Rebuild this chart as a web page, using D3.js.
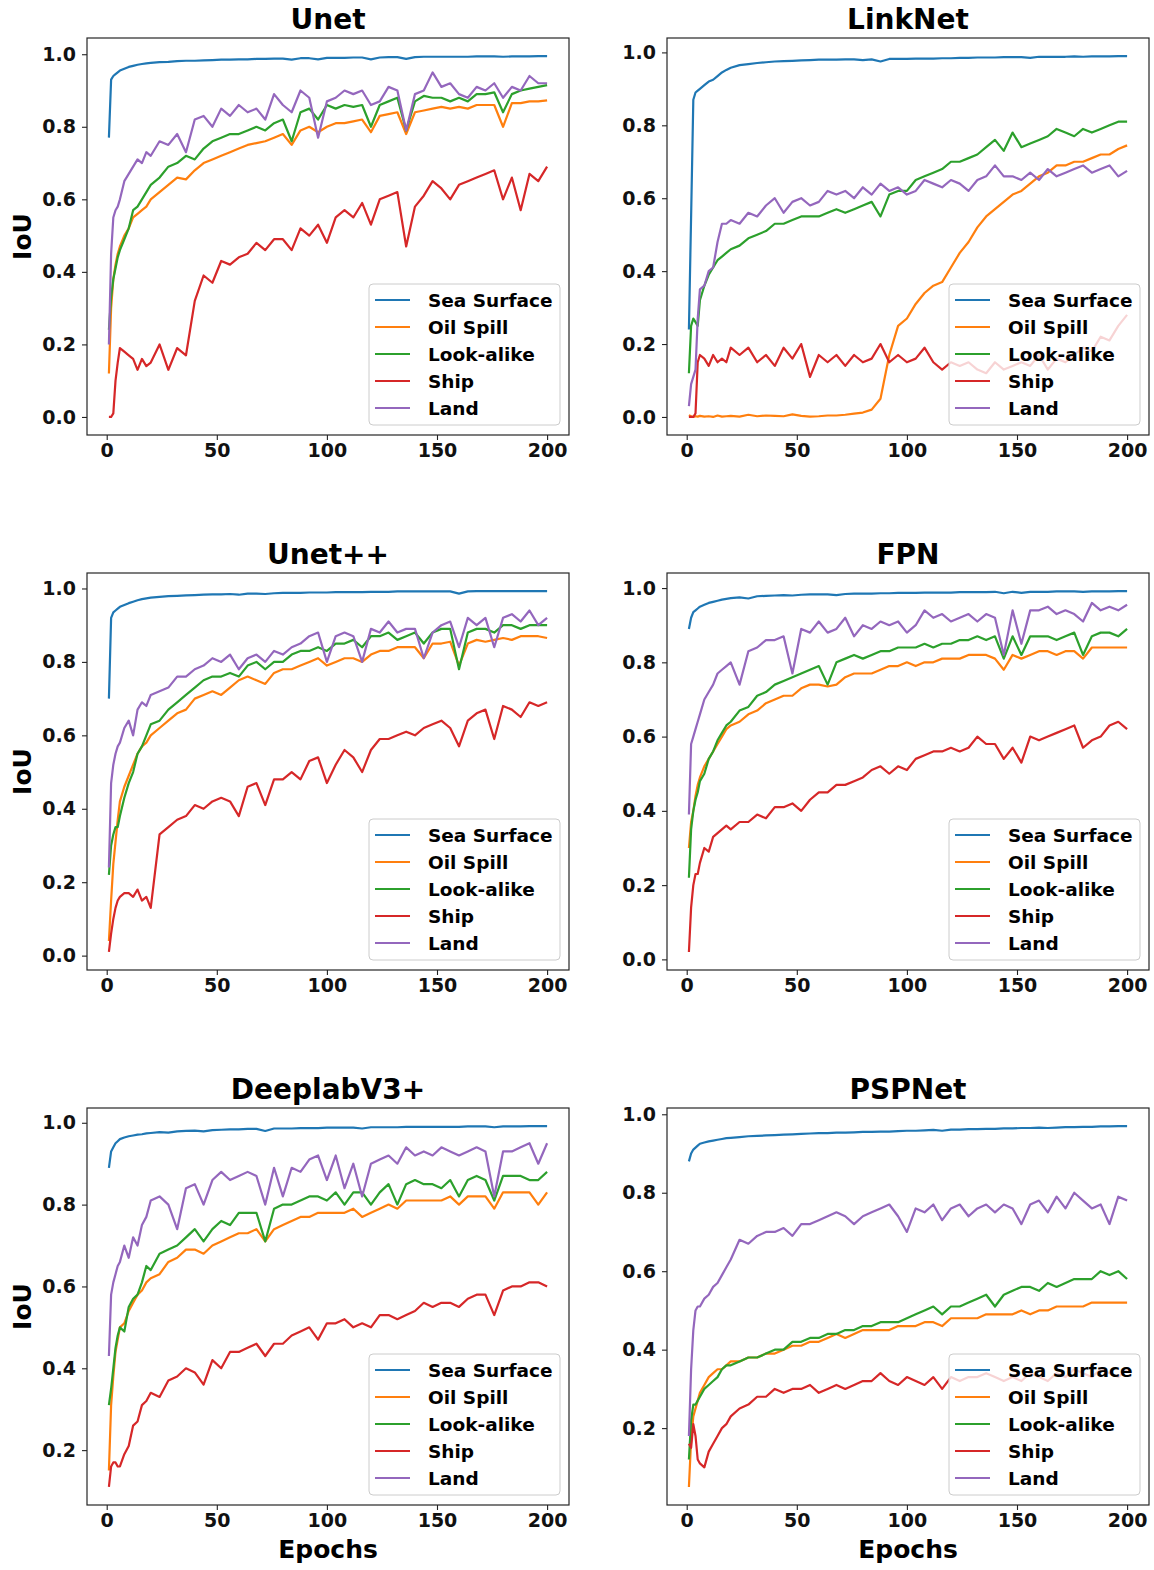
<!DOCTYPE html>
<html>
<head>
<meta charset="utf-8">
<script src="https://cdn.jsdelivr.net/npm/d3@7"></script>
<style>
  body { margin: 0; background: #fff; }
  text { font-family: "DejaVu Sans", sans-serif; font-weight: bold; }
</style>
</head>
<body>
<svg id="chart"></svg>
<script>
const epochs = [1,2,3,4,5,6,8,10,12,14,16,18,20,
  24,28,32,36,40,44,48,52,56,
  60,64,68,72,76,80,84,88,92,
  96,100,104,108,112,116,120,124,128,
  132,136,140,144,148,152,156,160,164,
  168,172,176,180,184,188,192,196,200];

const seriesNames = ['Sea Surface', 'Oil Spill', 'Look-alike', 'Ship', 'Land'];
const seriesColors = ['#1f77b4', '#ff7f0e', '#2ca02c', '#d62728', '#9467bd'];
const xTicks = [0, 50, 100, 150, 200];
const yTicks = [0.0, 0.2, 0.4, 0.6, 0.8, 1.0];

// Unet
const unetSea = [0.77,0.93,0.94,0.945,0.95,0.955,0.96,0.965,0.968,0.971,0.973,0.975,0.976,
  0.978,0.979,0.981,0.982,0.982,0.983,0.984,0.985,0.985,
  0.986,0.986,0.987,0.987,0.988,0.988,0.985,0.989,0.989,
  0.986,0.99,0.99,0.99,0.991,0.991,0.986,0.991,0.992,
  0.992,0.987,0.992,0.993,0.993,0.993,0.993,0.993,0.993,
  0.994,0.994,0.994,0.993,0.994,0.994,0.994,0.995,0.995];
const unetOil = [0.12,0.30,0.38,0.42,0.45,0.47,0.50,0.52,0.55,0.56,0.57,0.58,0.60,
  0.62,0.64,0.66,0.655,0.68,0.70,0.71,0.72,0.73,
  0.74,0.75,0.755,0.76,0.77,0.78,0.75,0.79,0.80,
  0.785,0.80,0.81,0.81,0.815,0.82,0.785,0.83,0.835,
  0.84,0.78,0.84,0.845,0.85,0.855,0.85,0.855,0.85,
  0.86,0.86,0.86,0.80,0.865,0.865,0.87,0.87,0.873];
const unetLook = [0.24,0.33,0.38,0.41,0.44,0.46,0.49,0.52,0.57,0.58,0.60,0.62,0.64,
  0.66,0.69,0.70,0.72,0.71,0.74,0.76,0.77,0.78,
  0.78,0.79,0.80,0.79,0.81,0.82,0.76,0.84,0.85,
  0.82,0.86,0.85,0.86,0.855,0.86,0.80,0.86,0.87,
  0.88,0.79,0.87,0.885,0.88,0.88,0.87,0.88,0.87,
  0.89,0.89,0.895,0.84,0.89,0.90,0.905,0.91,0.915];
const unetShip = [0.00,0.00,0.01,0.10,0.15,0.19,0.18,0.17,0.16,0.13,0.16,0.14,0.15,
  0.20,0.13,0.19,0.17,0.32,0.39,0.37,0.43,0.42,
  0.44,0.45,0.48,0.46,0.49,0.49,0.46,0.52,0.50,
  0.53,0.48,0.55,0.57,0.55,0.59,0.53,0.60,0.61,
  0.62,0.47,0.58,0.61,0.65,0.63,0.60,0.64,0.65,
  0.66,0.67,0.68,0.60,0.66,0.57,0.67,0.65,0.69];
const unetLand = [0.20,0.45,0.55,0.57,0.58,0.60,0.65,0.67,0.69,0.71,0.70,0.73,0.72,
  0.76,0.75,0.78,0.73,0.82,0.83,0.80,0.85,0.83,
  0.86,0.84,0.85,0.82,0.89,0.86,0.84,0.90,0.88,
  0.77,0.87,0.88,0.90,0.89,0.90,0.86,0.87,0.91,
  0.90,0.79,0.89,0.90,0.95,0.91,0.92,0.89,0.88,
  0.91,0.90,0.92,0.88,0.91,0.90,0.94,0.92,0.92];

// LinkNet
const linkSea = [0.24,0.55,0.87,0.89,0.895,0.90,0.91,0.92,0.925,0.935,0.945,0.952,0.958,
  0.965,0.968,0.971,0.973,0.975,0.976,0.977,0.978,0.979,
  0.98,0.98,0.98,0.981,0.981,0.979,0.981,0.975,0.982,
  0.982,0.982,0.983,0.983,0.983,0.984,0.984,0.985,0.985,
  0.986,0.986,0.986,0.987,0.987,0.987,0.985,0.988,0.988,
  0.988,0.988,0.989,0.988,0.989,0.989,0.989,0.99,0.99];
const linkOil = [0.005,0.002,0.0,0.002,0.001,0.003,0.001,0.002,0.0,0.004,0.001,0.002,0.003,
  0.001,0.006,0.002,0.004,0.003,0.002,0.007,0.003,0.001,
  0.002,0.004,0.004,0.006,0.009,0.012,0.02,0.05,0.17,
  0.25,0.27,0.31,0.34,0.36,0.37,0.41,0.45,0.48,
  0.52,0.55,0.57,0.59,0.61,0.62,0.64,0.66,0.67,
  0.69,0.69,0.70,0.70,0.71,0.72,0.72,0.735,0.745];
const linkLook = [0.12,0.25,0.27,0.26,0.25,0.32,0.36,0.39,0.41,0.43,0.44,0.45,0.46,
  0.47,0.49,0.50,0.51,0.53,0.53,0.54,0.55,0.55,
  0.55,0.56,0.57,0.56,0.57,0.58,0.59,0.55,0.61,
  0.62,0.62,0.65,0.66,0.67,0.68,0.70,0.70,0.71,
  0.72,0.74,0.76,0.73,0.78,0.74,0.75,0.76,0.77,
  0.79,0.78,0.77,0.79,0.78,0.79,0.80,0.81,0.81];
const linkShip = [0.0,0.0,0.0,0.01,0.15,0.17,0.16,0.14,0.17,0.15,0.16,0.15,0.19,
  0.17,0.19,0.15,0.17,0.14,0.19,0.16,0.20,0.11,
  0.17,0.15,0.17,0.14,0.17,0.15,0.16,0.20,0.15,
  0.17,0.15,0.16,0.19,0.15,0.13,0.15,0.14,0.15,
  0.13,0.12,0.15,0.13,0.14,0.15,0.14,0.17,0.13,
  0.16,0.15,0.17,0.19,0.18,0.22,0.21,0.25,0.28];
const linkLand = [0.03,0.09,0.11,0.13,0.27,0.35,0.36,0.40,0.41,0.48,0.53,0.53,0.54,
  0.53,0.56,0.55,0.58,0.60,0.56,0.59,0.60,0.58,
  0.59,0.62,0.61,0.62,0.60,0.63,0.61,0.64,0.62,
  0.63,0.61,0.62,0.65,0.64,0.63,0.65,0.64,0.62,
  0.65,0.66,0.69,0.66,0.66,0.65,0.67,0.65,0.68,
  0.66,0.67,0.68,0.69,0.67,0.68,0.69,0.66,0.675];

// Unet++
const uppSea = [0.70,0.92,0.935,0.94,0.945,0.95,0.955,0.96,0.964,0.968,0.971,0.973,0.975,
  0.977,0.979,0.98,0.981,0.982,0.983,0.984,0.984,0.985,
  0.983,0.986,0.986,0.985,0.987,0.988,0.988,0.988,0.989,
  0.989,0.989,0.99,0.99,0.99,0.99,0.991,0.991,0.991,
  0.992,0.992,0.992,0.992,0.992,0.992,0.992,0.986,0.992,
  0.993,0.993,0.993,0.993,0.993,0.993,0.993,0.993,0.993];
const uppOil = [0.04,0.15,0.25,0.31,0.37,0.42,0.46,0.49,0.52,0.55,0.57,0.58,0.60,
  0.62,0.64,0.66,0.67,0.70,0.71,0.72,0.71,0.73,
  0.75,0.76,0.75,0.74,0.77,0.78,0.78,0.79,0.80,
  0.81,0.79,0.80,0.81,0.81,0.80,0.82,0.83,0.83,
  0.84,0.84,0.84,0.81,0.85,0.85,0.855,0.79,0.85,
  0.86,0.855,0.86,0.865,0.86,0.87,0.87,0.87,0.865];
const uppLook = [0.22,0.30,0.33,0.35,0.35,0.38,0.43,0.47,0.50,0.55,0.57,0.60,0.63,
  0.64,0.67,0.69,0.71,0.73,0.75,0.76,0.76,0.77,
  0.76,0.79,0.80,0.78,0.80,0.80,0.82,0.83,0.83,
  0.84,0.83,0.85,0.85,0.86,0.84,0.87,0.87,0.88,
  0.86,0.87,0.88,0.85,0.88,0.89,0.89,0.78,0.88,
  0.89,0.89,0.88,0.90,0.90,0.89,0.90,0.90,0.90];
const uppShip = [0.01,0.06,0.10,0.13,0.15,0.16,0.17,0.17,0.16,0.18,0.15,0.16,0.13,
  0.33,0.35,0.37,0.38,0.41,0.40,0.42,0.43,0.42,
  0.38,0.46,0.47,0.41,0.48,0.48,0.50,0.48,0.53,
  0.54,0.47,0.52,0.56,0.54,0.50,0.56,0.59,0.59,
  0.60,0.61,0.60,0.62,0.63,0.64,0.62,0.57,0.64,
  0.66,0.67,0.59,0.68,0.67,0.65,0.69,0.68,0.69];
const uppLand = [0.24,0.47,0.52,0.55,0.57,0.58,0.62,0.64,0.60,0.67,0.69,0.68,0.71,
  0.72,0.73,0.76,0.76,0.78,0.79,0.81,0.80,0.82,
  0.78,0.81,0.82,0.80,0.83,0.82,0.84,0.85,0.87,
  0.88,0.80,0.87,0.88,0.87,0.80,0.89,0.88,0.91,
  0.88,0.89,0.89,0.81,0.88,0.90,0.91,0.84,0.92,
  0.90,0.92,0.84,0.92,0.93,0.91,0.94,0.90,0.92];

// FPN
const fpnSea = [0.89,0.92,0.935,0.94,0.945,0.95,0.955,0.96,0.963,0.966,0.969,0.971,0.973,
  0.975,0.972,0.978,0.979,0.98,0.981,0.98,0.982,0.983,
  0.983,0.983,0.981,0.984,0.985,0.985,0.985,0.986,0.986,
  0.987,0.987,0.987,0.988,0.988,0.988,0.988,0.989,0.989,
  0.989,0.989,0.99,0.986,0.99,0.987,0.99,0.99,0.99,
  0.991,0.991,0.991,0.99,0.991,0.991,0.991,0.992,0.992];
const fpnOil = [0.30,0.37,0.40,0.44,0.47,0.49,0.52,0.54,0.56,0.58,0.60,0.62,0.63,
  0.64,0.66,0.67,0.69,0.70,0.71,0.71,0.73,0.74,
  0.74,0.735,0.74,0.76,0.77,0.77,0.77,0.78,0.79,
  0.79,0.80,0.79,0.80,0.80,0.81,0.81,0.81,0.82,
  0.82,0.82,0.81,0.78,0.82,0.81,0.82,0.83,0.83,
  0.82,0.83,0.83,0.81,0.84,0.84,0.84,0.84,0.84];
const fpnLook = [0.22,0.35,0.40,0.43,0.45,0.48,0.50,0.54,0.56,0.59,0.61,0.63,0.64,
  0.67,0.68,0.71,0.72,0.74,0.75,0.76,0.77,0.78,
  0.79,0.74,0.80,0.81,0.82,0.81,0.82,0.83,0.83,
  0.84,0.84,0.84,0.85,0.84,0.85,0.85,0.86,0.86,
  0.87,0.86,0.87,0.81,0.87,0.82,0.87,0.87,0.87,
  0.86,0.87,0.88,0.82,0.87,0.88,0.88,0.87,0.89];
const fpnShip = [0.02,0.14,0.20,0.23,0.23,0.26,0.30,0.29,0.33,0.34,0.35,0.36,0.35,
  0.37,0.37,0.39,0.38,0.41,0.41,0.42,0.40,0.43,
  0.45,0.45,0.47,0.47,0.48,0.49,0.51,0.52,0.50,
  0.52,0.51,0.54,0.55,0.56,0.56,0.57,0.56,0.57,
  0.60,0.58,0.58,0.54,0.57,0.53,0.60,0.59,0.60,
  0.61,0.62,0.63,0.57,0.59,0.60,0.63,0.64,0.62];
const fpnLand = [0.39,0.58,0.60,0.62,0.64,0.66,0.70,0.72,0.74,0.77,0.78,0.79,0.80,
  0.74,0.83,0.84,0.86,0.86,0.87,0.77,0.89,0.88,
  0.91,0.88,0.89,0.92,0.87,0.90,0.89,0.91,0.90,
  0.91,0.88,0.90,0.94,0.92,0.93,0.91,0.92,0.93,
  0.91,0.93,0.92,0.82,0.94,0.85,0.94,0.94,0.95,
  0.93,0.94,0.93,0.91,0.96,0.94,0.95,0.94,0.955];

// DeeplabV3+
const dlSea = [0.89,0.93,0.94,0.95,0.955,0.96,0.964,0.967,0.969,0.971,0.972,0.974,0.975,
  0.977,0.976,0.979,0.98,0.981,0.979,0.982,0.983,0.984,
  0.984,0.985,0.985,0.98,0.986,0.986,0.986,0.987,0.987,
  0.987,0.988,0.988,0.988,0.988,0.986,0.989,0.989,0.989,
  0.989,0.99,0.99,0.99,0.99,0.99,0.99,0.99,0.991,
  0.991,0.991,0.989,0.991,0.991,0.991,0.992,0.992,0.992];
const dlOil = [0.15,0.31,0.38,0.44,0.47,0.50,0.51,0.54,0.56,0.58,0.59,0.61,0.62,
  0.63,0.66,0.67,0.69,0.69,0.68,0.70,0.71,0.72,
  0.73,0.73,0.74,0.71,0.74,0.75,0.76,0.77,0.77,
  0.78,0.78,0.78,0.78,0.79,0.77,0.78,0.79,0.80,
  0.79,0.81,0.81,0.81,0.81,0.81,0.82,0.80,0.82,
  0.82,0.82,0.79,0.83,0.83,0.83,0.83,0.80,0.83];
const dlLook = [0.31,0.35,0.40,0.45,0.48,0.50,0.49,0.55,0.57,0.58,0.61,0.65,0.64,
  0.68,0.69,0.70,0.72,0.74,0.71,0.74,0.76,0.75,
  0.78,0.78,0.78,0.71,0.79,0.80,0.80,0.81,0.82,
  0.82,0.81,0.83,0.80,0.83,0.83,0.80,0.83,0.85,
  0.80,0.85,0.86,0.85,0.85,0.84,0.86,0.82,0.86,
  0.87,0.86,0.81,0.87,0.87,0.87,0.86,0.86,0.88];
const dlShip = [0.11,0.16,0.17,0.17,0.16,0.16,0.19,0.21,0.26,0.27,0.31,0.32,0.34,
  0.33,0.37,0.38,0.40,0.39,0.36,0.42,0.40,0.44,
  0.44,0.45,0.46,0.43,0.46,0.46,0.48,0.49,0.50,
  0.47,0.51,0.51,0.52,0.50,0.51,0.50,0.53,0.53,
  0.52,0.53,0.54,0.56,0.55,0.56,0.56,0.55,0.57,
  0.58,0.58,0.53,0.59,0.60,0.60,0.61,0.61,0.60];
const dlLand = [0.43,0.58,0.61,0.63,0.65,0.66,0.70,0.67,0.72,0.70,0.75,0.77,0.81,
  0.82,0.80,0.74,0.84,0.85,0.80,0.86,0.88,0.86,
  0.87,0.88,0.87,0.80,0.89,0.82,0.89,0.88,0.91,
  0.92,0.86,0.92,0.84,0.90,0.82,0.90,0.91,0.92,
  0.90,0.94,0.92,0.93,0.92,0.94,0.93,0.92,0.93,
  0.94,0.93,0.82,0.93,0.93,0.94,0.95,0.90,0.95];

// PSPNet
const pspSea = [0.88,0.90,0.91,0.915,0.92,0.925,0.928,0.931,0.933,0.935,0.937,0.939,0.94,
  0.942,0.944,0.945,0.946,0.947,0.948,0.949,0.95,0.951,
  0.952,0.952,0.953,0.953,0.954,0.955,0.955,0.956,0.956,
  0.957,0.958,0.958,0.959,0.96,0.958,0.961,0.961,0.962,
  0.962,0.963,0.963,0.964,0.964,0.965,0.965,0.966,0.965,
  0.966,0.967,0.967,0.968,0.968,0.969,0.969,0.97,0.97];
const pspOil = [0.05,0.17,0.23,0.25,0.27,0.29,0.31,0.33,0.34,0.35,0.35,0.36,0.37,
  0.37,0.38,0.38,0.39,0.39,0.40,0.41,0.41,0.42,
  0.42,0.43,0.44,0.43,0.44,0.45,0.45,0.45,0.45,
  0.46,0.46,0.46,0.47,0.47,0.46,0.48,0.48,0.48,
  0.48,0.49,0.49,0.49,0.49,0.50,0.49,0.50,0.50,
  0.51,0.51,0.51,0.51,0.52,0.52,0.52,0.52,0.52];
const pspLook = [0.12,0.22,0.26,0.26,0.27,0.28,0.30,0.31,0.32,0.33,0.35,0.36,0.36,
  0.37,0.38,0.38,0.39,0.40,0.40,0.42,0.42,0.43,
  0.43,0.44,0.44,0.45,0.45,0.46,0.46,0.47,0.47,
  0.47,0.48,0.49,0.50,0.51,0.49,0.51,0.51,0.52,
  0.53,0.54,0.51,0.54,0.55,0.56,0.56,0.55,0.57,
  0.56,0.57,0.58,0.58,0.58,0.60,0.59,0.60,0.58];
const pspShip = [0.16,0.15,0.21,0.18,0.12,0.11,0.10,0.14,0.16,0.18,0.20,0.21,0.23,
  0.25,0.26,0.28,0.28,0.30,0.29,0.30,0.30,0.31,
  0.29,0.30,0.31,0.30,0.31,0.32,0.32,0.34,0.32,
  0.31,0.33,0.32,0.31,0.33,0.30,0.33,0.32,0.33,
  0.33,0.34,0.33,0.32,0.33,0.32,0.34,0.33,0.32,
  0.34,0.33,0.35,0.34,0.33,0.35,0.34,0.33,0.35];
const pspLand = [0.18,0.35,0.45,0.50,0.51,0.51,0.53,0.54,0.56,0.57,0.59,0.61,0.63,
  0.68,0.67,0.69,0.70,0.70,0.71,0.69,0.72,0.72,
  0.73,0.74,0.75,0.74,0.72,0.74,0.75,0.76,0.77,
  0.74,0.70,0.76,0.75,0.77,0.73,0.76,0.77,0.74,
  0.76,0.77,0.75,0.77,0.76,0.72,0.77,0.78,0.75,
  0.79,0.76,0.80,0.78,0.76,0.77,0.72,0.79,0.78];

const panels = [
  {title: 'Unet', series: [unetSea, unetOil, unetLook, unetShip, unetLand]},
  {title: 'LinkNet', series: [linkSea, linkOil, linkLook, linkShip, linkLand]},
  {title: 'Unet++', series: [uppSea, uppOil, uppLook, uppShip, uppLand]},
  {title: 'FPN', series: [fpnSea, fpnOil, fpnLook, fpnShip, fpnLand]},
  {title: 'DeeplabV3+', series: [dlSea, dlOil, dlLook, dlShip, dlLand]},
  {title: 'PSPNet', series: [pspSea, pspOil, pspLook, pspShip, pspLand]}
];

// layout
const width = 1154, height = 1570;
const plotW = 482, plotH = 397;
const colX = [87, 667];
const rowY = [38, 573, 1108];

const svg = d3.select('#chart')
    .attr('width', width)
    .attr('height', height);

// matplotlib-like 5% margins on x
const x = d3.scaleLinear()
    .domain([1 - 0.05 * 199, 200 + 0.05 * 199])
    .range([0, plotW]);

panels.forEach(function(p, i) {
    const col = i % 2, row = Math.floor(i / 2);
    const g = svg.append('g')
        .attr('transform', 'translate(' + colX[col] + ',' + rowY[row] + ')');

    const all = p.series.flat();
    const lo = d3.min(all), hi = d3.max(all);
    const pad = 0.05 * (hi - lo);
    const y = d3.scaleLinear()
        .domain([lo - pad, hi + pad])
        .range([plotH, 0]);

    // clip
    g.append('clipPath').attr('id', 'clip' + i)
        .append('rect').attr('width', plotW).attr('height', plotH);

    // X axis
    const xAxis = g.append('g')
        .attr('transform', 'translate(0,' + plotH + ')')
        .call(d3.axisBottom(x).tickValues(xTicks).tickFormat(d3.format('d'))
            .tickSize(5).tickPadding(4));
    // Y axis
    const yAxis = g.append('g')
        .call(d3.axisLeft(y)
            .tickValues(yTicks.filter(t => t >= lo - pad && t <= hi + pad))
            .tickFormat(d3.format('.1f'))
            .tickSize(5).tickPadding(6));
    [xAxis, yAxis].forEach(function(a) {
        a.select('.domain').remove();
        a.selectAll('line').attr('stroke', '#222').attr('stroke-width', 1.1);
        a.selectAll('text')
            .attr('fill', '#111')
            .style('font-size', '19px')
            .style('font-family', '"DejaVu Sans", sans-serif')
            .style('font-weight', 'bold');
    });

    // lines
    const line = d3.line()
        .x((d, j) => x(epochs[j]))
        .y(d => y(d));
    g.append('g').attr('clip-path', 'url(#clip' + i + ')')
        .selectAll('path')
        .data(p.series)
        .enter()
        .append('path')
        .attr('d', d => line(d))
        .attr('fill', 'none')
        .attr('stroke', (d, k) => seriesColors[k])
        .attr('stroke-width', 2.2)
        .attr('stroke-linejoin', 'round');

    // frame
    g.append('rect')
        .attr('width', plotW).attr('height', plotH)
        .attr('fill', 'none')
        .attr('stroke', '#262626')
        .attr('stroke-width', 1.2);

    // title
    g.append('text')
        .attr('x', plotW / 2).attr('y', -9)
        .attr('text-anchor', 'middle')
        .style('font-size', '28px')
        .text(p.title);

    // legend
    const lw = 191, lh = 141;
    const leg = g.append('g')
        .attr('transform', 'translate(' + (plotW - 9 - lw) + ',' + (plotH - 10 - lh) + ')');
    leg.append('rect')
        .attr('width', lw).attr('height', lh)
        .attr('rx', 4)
        .attr('fill', '#fff').attr('fill-opacity', 0.8)
        .attr('stroke', '#cccccc').attr('stroke-width', 1);
    seriesNames.forEach(function(name, k) {
        const yy = 16 + 27 * k;
        leg.append('line')
            .attr('x1', 6).attr('x2', 41)
            .attr('y1', yy).attr('y2', yy)
            .attr('stroke', seriesColors[k]).attr('stroke-width', 2.2);
        leg.append('text')
            .attr('x', 59).attr('y', yy).attr('dy', '0.36em')
            .style('font-size', '18.5px')
            .text(name);
    });

    // axis labels
    if (col === 0) {
        g.append('text')
            .attr('transform', 'translate(' + (31 - colX[col]) + ',' + (plotH / 2) + ') rotate(-90)')
            .attr('text-anchor', 'middle')
            .style('font-size', '25px')
            .text('IoU');
    }
    if (row === 2) {
        g.append('text')
            .attr('x', plotW / 2).attr('y', 1558 - rowY[row])
            .attr('text-anchor', 'middle')
            .style('font-size', '25px')
            .text('Epochs');
    }
});
</script>
</body>
</html>
